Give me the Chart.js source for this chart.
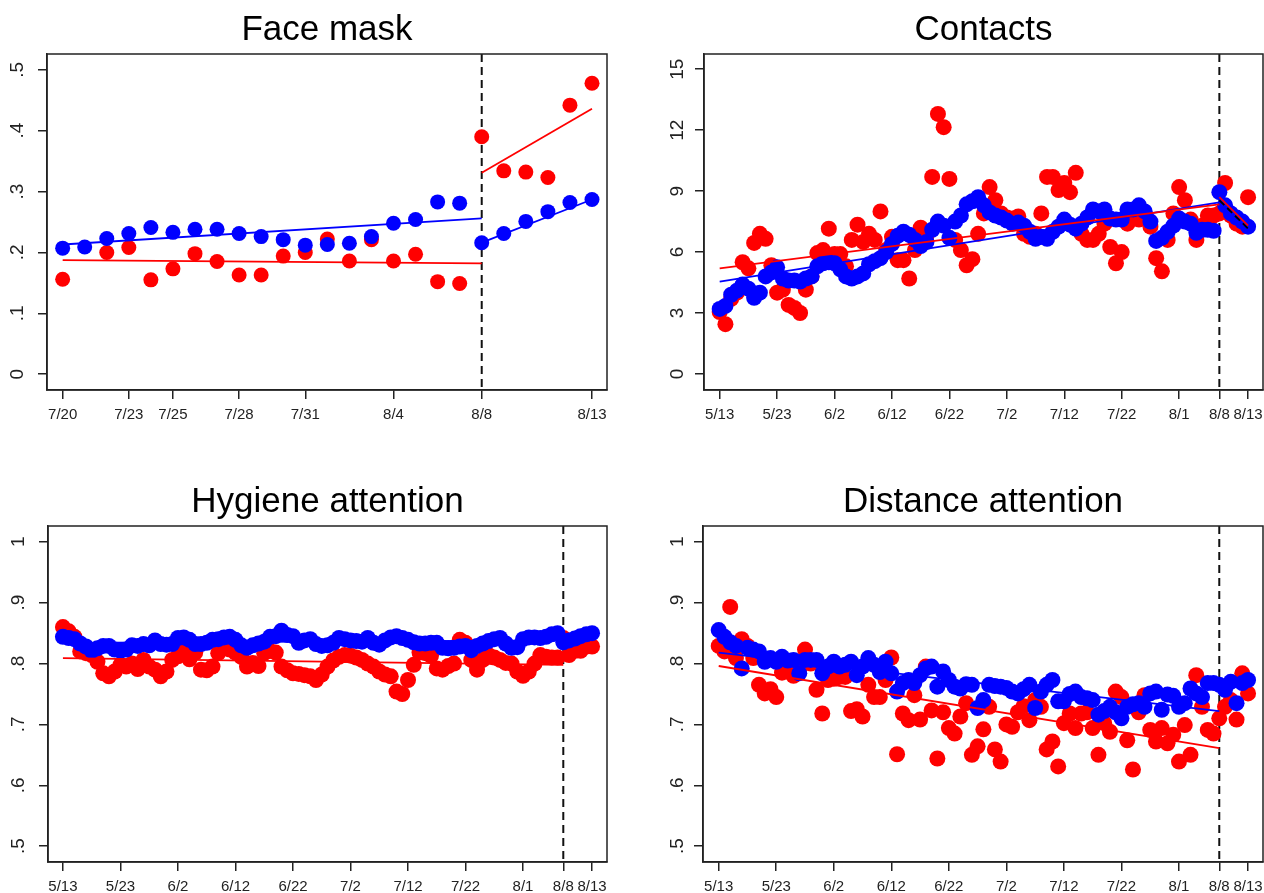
<!DOCTYPE html>
<html>
<head>
<meta charset="utf-8">
<script src="https://cdn.jsdelivr.net/npm/chart.js@4.4.1/dist/chart.umd.min.js"></script>
<style>
  html, body { margin: 0; padding: 0; background: #fff; overflow: hidden; }
  #page { position: relative; width: 1264px; height: 893px; overflow: hidden; }
  canvas { position: absolute; }
</style>
</head>
<body>
<div id="page">
<canvas id="face" width="632" height="446" style="left:0;top:0"></canvas>
<canvas id="contacts" width="640" height="446" style="left:632px;top:0"></canvas>
<canvas id="hygiene" width="632" height="421" style="left:0;top:472px"></canvas>
<canvas id="distance" width="640" height="421" style="left:632px;top:472px"></canvas>
</div>
<script>
// ---- Face mask (daily, 7/20 - 8/13) ----
const faceTicks = [0, 3, 5, 8, 11, 15, 19, 24]
const faceTickLabels = ["7/20", "7/23", "7/25", "7/28", "7/31", "8/4", "8/8", "8/13"]
const faceYTicks = [0, 0.1, 0.2, 0.3, 0.4, 0.5]
const faceYLabels = ["0", ".1", ".2", ".3", ".4", ".5"]
const faceRed = [0.156, null, 0.200, 0.208, 0.155, 0.173, 0.198, 0.185, 0.163, 0.163, 0.194, 0.200, 0.222,
  0.186, 0.221, 0.186, 0.197, 0.152, 0.149, 0.390, 0.334, 0.332, 0.323, 0.442, 0.478]
const faceBlue = [0.207, 0.209, 0.223, 0.231, 0.241, 0.233, 0.238, 0.238, 0.231, 0.226, 0.221, 0.212, 0.213,
  0.215, 0.226, 0.248, 0.254, 0.283, 0.281, 0.216, 0.231, 0.251, 0.267, 0.282, 0.287]
const faceRedFit = [0.1875, 0.182]
const faceRedFitPost = [0.331, 0.436]
const faceBlueFit = [0.213, 0.256]
const faceBlueFitPost = [0.216, 0.287]

// ---- long panels (daily, 5/13 - 8/13) ----
const longTicks = [0, 10, 20, 30, 40, 50, 60, 70, 80, 87, 92]
const longTickLabels = ["5/13", "5/23", "6/2", "6/12", "6/22", "7/2", "7/12", "7/22", "8/1", "8/8", "8/13"]

const contactsYTicks = [0, 3, 6, 9, 12, 15]
const contactsYLabels = ["0", "3", "6", "9", "12", "15"]
const contactsRed = [3.05, 2.45, 3.7, 4.0, 5.5, 5.2, 6.45, 6.9, 6.65, 5.35, 4.0, 4.15, 3.4, 3.25, 3.0, 4.15,
  4.8, 5.95, 6.1, 7.15, 5.9, 5.9, 5.3, 6.6, 7.35, 6.5, 6.9, 6.6, 8.0, 6.1, 6.75, 5.6, 5.6, 4.7, 6.1, 7.2,
  6.8, 9.7, 12.8, 12.15, 9.6, 6.6, 6.1, 5.35, 5.65, 6.9, 7.9, 9.2, 8.55, 7.9, 7.7, 7.65, 7.75, 6.9, 6.75,
  6.9, 7.9, 9.7, 9.7, 9.05, 9.4, 8.95, 9.9, 6.9, 6.6, 6.6, 6.9, 7.4, 6.25, 5.45, 6.0, 7.4, 7.9, 7.6, 7.9,
  7.25, 5.7, 5.05, 6.6, 7.9, 9.2, 8.55, 7.6, 6.6, 7.3, 7.8, 7.8, 7.9, 9.4, 7.8, 7.4, 7.25, 8.7]
const contactsBlue = [3.2, 3.35, 3.9, 4.1, 4.4, 4.2, 3.75, 4.0, 4.8, 5.0, 5.25, 4.7, 4.6, 4.6, 4.55, 4.7,
  4.8, 5.3, 5.45, 5.5, 5.45, 5.15, 4.8, 4.7, 4.8, 4.95, 5.4, 5.55, 5.7, 6.0, 6.4, 6.8, 7.0, 6.85, 6.6, 6.3,
  6.5, 7.1, 7.5, 7.3, 6.7, 7.5, 7.8, 8.35, 8.5, 8.7, 8.3, 7.95, 7.8, 7.7, 7.55, 7.4, 7.45, 7.3, 7.0, 6.65,
  6.75, 6.65, 7.0, 7.25, 7.6, 7.35, 7.15, 7.4, 7.7, 8.1, 8.0, 8.1, 7.65, 7.6, 7.6, 8.1, 8.1, 8.3, 8.0, 7.5,
  6.55, 6.7, 7.0, 7.3, 7.65, 7.5, 7.4, 6.95, 7.1, 7.1, 7.05, 8.95, 8.3, 7.9, 7.7, 7.5, 7.25]
const contactsRedFit = [5.2, 8.35]
const contactsRedFitPost = [8.7, 7.3]
const contactsBlueFit = [4.55, 8.45]
const contactsBlackFitPost = [8.55, 7.15]

const attnYTicks = [0.5, 0.6, 0.7, 0.8, 0.9, 1]
const attnYLabels = [".5", ".6", ".7", ".8", ".9", "1"]

const hygieneRed = [0.86, 0.853, 0.844, 0.82, 0.817, 0.814, 0.803, 0.784, 0.779, 0.787, 0.798, 0.795, 0.8,
  0.791, 0.806, 0.795, 0.79, 0.779, 0.787, 0.806, 0.812, 0.821, 0.807, 0.818, 0.79, 0.789, 0.795, 0.817,
  0.825, 0.823, 0.818, 0.811, 0.795, 0.801, 0.796, 0.817, 0.821, 0.818, 0.795, 0.789, 0.784, 0.783, 0.781,
  0.779, 0.773, 0.782, 0.795, 0.805, 0.811, 0.814, 0.813, 0.81, 0.806, 0.8, 0.795, 0.787, 0.782, 0.779,
  0.754, 0.75, 0.773, 0.798, 0.818, 0.817, 0.813, 0.792, 0.79, 0.796, 0.8, 0.839, 0.834, 0.806, 0.79,
  0.806, 0.814, 0.81, 0.806, 0.801, 0.8, 0.787, 0.78, 0.787, 0.8, 0.814, 0.811, 0.81, 0.81, 0.842, 0.814,
  0.821, 0.821, 0.828, 0.828]
const hygieneBlue = [0.844, 0.842, 0.84, 0.833, 0.828, 0.821, 0.825, 0.829, 0.829, 0.823, 0.821, 0.823,
  0.83, 0.829, 0.832, 0.83, 0.838, 0.832, 0.831, 0.832, 0.842, 0.843, 0.839, 0.832, 0.832, 0.834, 0.839,
  0.84, 0.843, 0.844, 0.839, 0.83, 0.826, 0.83, 0.833, 0.836, 0.844, 0.845, 0.854, 0.847, 0.845, 0.834,
  0.838, 0.84, 0.832, 0.829, 0.83, 0.834, 0.842, 0.84, 0.838, 0.837, 0.836, 0.842, 0.834, 0.831, 0.838,
  0.843, 0.845, 0.842, 0.839, 0.835, 0.833, 0.833, 0.834, 0.834, 0.826, 0.825, 0.826, 0.828, 0.829, 0.822,
  0.829, 0.833, 0.837, 0.84, 0.842, 0.833, 0.826, 0.827, 0.84, 0.843, 0.843, 0.842, 0.844, 0.848, 0.85,
  0.835, 0.838, 0.841, 0.845, 0.848, 0.85]
const hygieneRedFit = [0.809, 0.798]
const hygieneBlueFit = [0.834, 0.838]

const distanceRed = [0.829, 0.82, 0.893, 0.809, 0.84, 0.829, 0.809, 0.765, 0.751, 0.758, 0.745, 0.785,
  0.787, 0.78, 0.79, 0.823, 0.8, 0.757, 0.718, 0.773, 0.775, 0.778, 0.778, 0.722, 0.725, 0.713, 0.765,
  0.745, 0.745, 0.773, 0.81, 0.651, 0.718, 0.707, 0.748, 0.708, 0.795, 0.723, 0.644, 0.72, 0.694, 0.685,
  0.713, 0.735, 0.65, 0.664, 0.692, 0.729, 0.659, 0.639, 0.7, 0.696, 0.72, 0.73, 0.707, 0.74, 0.729, 0.659,
  0.672, 0.631, 0.702, 0.718, 0.694, 0.718, 0.72, 0.694, 0.65, 0.702, 0.688, 0.754, 0.745, 0.674, 0.626,
  0.72, 0.748, 0.691, 0.672, 0.694, 0.669, 0.683, 0.639, 0.699, 0.65, 0.781, 0.729, 0.691, 0.685, 0.71,
  0.729, 0.74, 0.708, 0.784, 0.751]
const distanceBlue = [0.855, 0.844, 0.835, 0.829, 0.792, 0.826, 0.823, 0.82, 0.803, 0.809, 0.803, 0.811,
  0.805, 0.806, 0.784, 0.806, 0.806, 0.806, 0.784, 0.795, 0.803, 0.795, 0.798, 0.803, 0.781, 0.795, 0.809,
  0.798, 0.786, 0.803, 0.784, 0.754, 0.768, 0.773, 0.768, 0.781, 0.792, 0.795, 0.762, 0.787, 0.773, 0.762,
  0.759, 0.766, 0.765, 0.727, 0.74, 0.765, 0.763, 0.762, 0.76, 0.754, 0.751, 0.758, 0.765, 0.727, 0.754,
  0.765, 0.773, 0.738, 0.738, 0.75, 0.754, 0.745, 0.743, 0.74, 0.716, 0.722, 0.729, 0.72, 0.71, 0.729,
  0.733, 0.735, 0.729, 0.751, 0.754, 0.724, 0.749, 0.747, 0.729, 0.735, 0.759, 0.751, 0.745, 0.768, 0.768,
  0.765, 0.757, 0.77, 0.735, 0.768, 0.773]
const distanceRedFit = [0.796, 0.661]
const distanceBlueFit = [0.818, 0.722]

const FONT = "'Liberation Sans', Arial, sans-serif"
const INK = "#222"
const RED = "#ff0000"
const BLUE = "#0000ff"

// dashed cutoff line under the dots, box round the plot region on top
const framePlugin = {
  id: "frame",
  beforeDatasetsDraw(chart, args, opts) {
    const { ctx, chartArea: a } = chart
    const px = chart.scales.x.getPixelForValue(opts.cutoff)
    ctx.save()
    ctx.setLineDash([8, 5])
    ctx.lineWidth = 2
    ctx.strokeStyle = "#111"
    ctx.beginPath()
    ctx.moveTo(px, a.top)
    ctx.lineTo(px, a.bottom)
    ctx.stroke()
    ctx.restore()
  },
  afterDraw(chart) {
    const { ctx, chartArea: a } = chart
    ctx.save()
    ctx.lineWidth = 1.5
    ctx.strokeStyle = INK
    ctx.strokeRect(a.left, a.top, a.right - a.left, a.bottom - a.top)
    ctx.restore()
  }
}

const points = vals => vals.map((v, i) => ({ x: i, y: v }))
const segment = (x0, x1, ends) => [{ x: x0, y: ends[0] }, { x: x1, y: ends[1] }]

function dots(vals, color, r) {
  return { data: points(vals), backgroundColor: color, borderWidth: 0, pointRadius: r, pointHoverRadius: r, showLine: false }
}

function fit(x0, x1, ends, color, dash) {
  return {
    data: segment(x0, x1, ends), borderColor: color, borderWidth: 1.8, borderDash: dash || [],
    pointRadius: 0, showLine: true, fill: false
  }
}

function panel(id, p) {
  return new Chart(document.getElementById(id), {
    type: "scatter",
    data: { datasets: p.lines.concat([dots(p.blue, BLUE, p.r), dots(p.red, RED, p.r)]) },
    options: {
      responsive: false,
      animation: false,
      devicePixelRatio: 1,
      layout: { padding: { left: 0, right: p.right, top: 0, bottom: 0 } },
      plugins: {
        legend: { display: false },
        tooltip: { enabled: false },
        title: {
          display: true, text: p.title, fullSize: false, color: "#000",
          font: { family: FONT, size: 35, weight: "normal" }, padding: { top: 9, bottom: 3 }
        },
        frame: { cutoff: p.cutoff }
      },
      scales: {
        x: {
          type: "linear", min: p.xMin, max: p.xMax,
          afterBuildTicks: s => { s.ticks = p.xTicks.map(v => ({ value: v })) },
          afterFit: s => { s.height = p.xh },
          ticks: {
            autoSkip: false, maxRotation: 0, padding: 7, color: INK,
            font: { family: FONT, size: 15 },
            callback: v => p.xLabels[p.xTicks.indexOf(v)]
          },
          grid: { drawOnChartArea: false, tickLength: 9, color: INK, lineWidth: 1.5 },
          border: { color: INK, width: 1.5 }
        },
        y: {
          type: "linear", min: p.yMin, max: p.yMax,
          afterBuildTicks: s => { s.ticks = p.yTicks.map(v => ({ value: v })) },
          afterFit: s => { s.width = p.yw },
          ticks: {
            minRotation: 90, maxRotation: 90, crossAlign: "center", padding: p.ypad, color: INK,
            font: { family: FONT, size: 19 },
            callback: v => p.yLabels[p.yTicks.indexOf(v)]
          },
          grid: { drawOnChartArea: false, tickLength: 9, color: INK, lineWidth: 1.5 },
          border: { color: INK, width: 1.5 }
        }
      }
    },
    plugins: [framePlugin]
  })
}

panel("face", {
  title: "Face mask", red: faceRed, blue: faceBlue, cutoff: 19, r: 7.5,
  lines: [
    fit(0, 19, faceRedFit, RED), fit(19, 24, faceRedFitPost, RED),
    fit(0, 19, faceBlueFit, BLUE), fit(19, 24, faceBlueFitPost, BLUE)
  ],
  xMin: -0.71, xMax: 24.68, xTicks: faceTicks, xLabels: faceTickLabels,
  yMin: -0.026, yMax: 0.526, yTicks: faceYTicks, yLabels: faceYLabels,
  yw: 47, xh: 56, right: 25, ypad: 12
})

panel("contacts", {
  title: "Contacts", red: contactsRed, blue: contactsBlue, cutoff: 87, r: 8,
  lines: [
    fit(87, 92, contactsBlackFitPost, "#000", [7, 4]),
    fit(0, 87, contactsRedFit, RED), fit(87, 92, contactsRedFitPost, RED),
    fit(0, 87, contactsBlueFit, BLUE)
  ],
  xMin: -2.73, xMax: 94.6, xTicks: longTicks, xLabels: longTickLabels,
  yMin: -0.79, yMax: 15.75, yTicks: contactsYTicks, yLabels: contactsYLabels,
  yw: 72, xh: 56, right: 9, ypad: 7
})

panel("hygiene", {
  title: "Hygiene attention", red: hygieneRed, blue: hygieneBlue, cutoff: 87, r: 8,
  lines: [fit(0, 87, hygieneRedFit, RED), fit(0, 87, hygieneBlueFit, BLUE)],
  xMin: -2.6, xMax: 94.6, xTicks: longTicks, xLabels: longTickLabels,
  yMin: 0.474, yMax: 1.026, yTicks: attnYTicks, yLabels: attnYLabels,
  yw: 48, xh: 31, right: 25, ypad: 12
})

panel("distance", {
  title: "Distance attention", red: distanceRed, blue: distanceBlue, cutoff: 87, r: 8,
  lines: [fit(0, 87, distanceRedFit, RED), fit(0, 87, distanceBlueFit, BLUE)],
  xMin: -2.73, xMax: 94.6, xTicks: longTicks, xLabels: longTickLabels,
  yMin: 0.474, yMax: 1.026, yTicks: attnYTicks, yLabels: attnYLabels,
  yw: 71, xh: 31, right: 9, ypad: 8
})
</script>
</body>
</html>
